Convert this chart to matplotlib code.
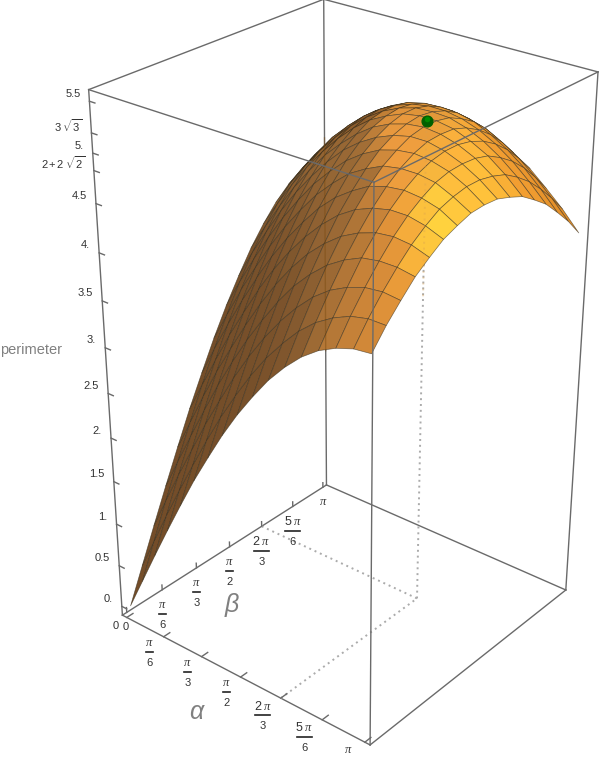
import numpy as np
import matplotlib
matplotlib.use("Agg")
import matplotlib.pyplot as plt
from matplotlib.lines import Line2D
from mpl_toolkits.mplot3d import proj3d

plt.rcParams["font.family"] = ["Liberation Sans", "DejaVu Sans"]
plt.rcParams["mathtext.fontset"] = "custom"
plt.rcParams["mathtext.rm"] = "Liberation Sans"
plt.rcParams["mathtext.it"] = "Liberation Serif:italic"

# perimeter values on the mesh, alpha rows and beta columns, every pi/16
perimeter = [
    [0.00, 0.39, 0.78, 1.16, 1.53, 1.89, 2.22, 2.54, 2.83, 3.09, 3.33, 3.53, 3.70, 3.83, 3.92, 3.98, 4.00],
    [0.39, 0.78, 1.17, 1.54, 1.90, 2.25, 2.58, 2.88, 3.16, 3.41, 3.62, 3.81, 3.96, 4.07, 4.15, 4.19, 4.19],
    [0.78, 1.17, 1.55, 1.91, 2.27, 2.60, 2.92, 3.21, 3.47, 3.70, 3.90, 4.07, 4.20, 4.29, 4.35, 4.37, 4.35],
    [1.16, 1.54, 1.91, 2.27, 2.62, 2.94, 3.24, 3.51, 3.76, 3.98, 4.16, 4.31, 4.42, 4.50, 4.53, 4.53, 4.50],
    [1.53, 1.90, 2.27, 2.62, 2.94, 3.25, 3.54, 3.80, 4.03, 4.23, 4.39, 4.52, 4.61, 4.67, 4.69, 4.67, 4.61],
    [1.89, 2.25, 2.60, 2.94, 3.25, 3.55, 3.82, 4.06, 4.27, 4.45, 4.60, 4.71, 4.78, 4.82, 4.82, 4.78, 4.71],
    [2.22, 2.58, 2.92, 3.24, 3.54, 3.82, 4.07, 4.29, 4.49, 4.65, 4.77, 4.87, 4.92, 4.94, 4.92, 4.87, 4.77],
    [2.54, 2.88, 3.21, 3.51, 3.80, 4.06, 4.29, 4.50, 4.67, 4.82, 4.92, 5.00, 5.03, 5.03, 5.00, 4.92, 4.82],
    [2.83, 3.16, 3.47, 3.76, 4.03, 4.27, 4.49, 4.67, 4.83, 4.95, 5.04, 5.09, 5.11, 5.09, 5.04, 4.95, 4.83],
    [3.09, 3.41, 3.70, 3.98, 4.23, 4.45, 4.65, 4.82, 4.95, 5.05, 5.12, 5.16, 5.16, 5.12, 5.05, 4.95, 4.82],
    [3.33, 3.62, 3.90, 4.16, 4.39, 4.60, 4.77, 4.92, 5.04, 5.12, 5.17, 5.19, 5.17, 5.12, 5.04, 4.92, 4.77],
    [3.53, 3.81, 4.07, 4.31, 4.52, 4.71, 4.87, 5.00, 5.09, 5.16, 5.19, 5.19, 5.16, 5.09, 5.00, 4.87, 4.71],
    [3.70, 3.96, 4.20, 4.42, 4.61, 4.78, 4.92, 5.03, 5.11, 5.16, 5.17, 5.16, 5.11, 5.03, 4.92, 4.78, 4.61],
    [3.83, 4.07, 4.29, 4.50, 4.67, 4.82, 4.94, 5.03, 5.09, 5.12, 5.12, 5.09, 5.03, 4.94, 4.82, 4.67, 4.50],
    [3.92, 4.15, 4.35, 4.53, 4.69, 4.82, 4.92, 5.00, 5.04, 5.05, 5.04, 5.00, 4.92, 4.82, 4.69, 4.53, 4.35],
    [3.98, 4.19, 4.37, 4.53, 4.67, 4.78, 4.87, 4.92, 4.95, 4.95, 4.92, 4.87, 4.78, 4.67, 4.53, 4.37, 4.19],
    [4.00, 4.19, 4.35, 4.50, 4.61, 4.71, 4.77, 4.82, 4.83, 4.82, 4.77, 4.71, 4.61, 4.50, 4.35, 4.19, 4.00],
]
mesh_angles = np.arange(17) * np.pi / 16

angle_ticks = [0, np.pi / 6, np.pi / 3, np.pi / 2, 2 * np.pi / 3, 5 * np.pi / 6, np.pi]
angle_labels = [("0", None), ("\\pi", "6"), ("\\pi", "3"), ("\\pi", "2"), ("2\\ \\pi", "3"), ("5\\ \\pi", "6"), ("\\pi", None)]
z_ticks = [0, 0.5, 1, 1.5, 2, 2.5, 3, 3.5, 4, 4.5, 2 + 2 * np.sqrt(2), 5, 3 * np.sqrt(3), 5.5]
z_labels = ["0.", "0.5", "1.", "1.5", "2.", "2.5", "3.", "3.5", "4.", "4.5", r"$2+2\ \sqrt{2}$", "5.", r"$3\ \sqrt{3}$", "5.5"]

peak_alpha, peak_beta, peak_z = 2 * np.pi / 3, 2 * np.pi / 3, 3 * np.sqrt(3)

A0, A1 = -0.063, np.pi + 0.063
Z0, Z1 = -0.11, 5.61
GREY = "#6a6a6a"
DOTS = "#ababab"
TEXT = "#333333"

# surface colours seen for some normals (camera right, camera up, towards camera)
shade_normals = np.array([
    [-0.94, 0.25, 0.24], [-0.63, 0.53, 0.36], [-0.45, 0.36, 0.82], [-0.25, 0.42, 0.87], [-0.04, 0.47, 0.88],
    [0.00, 0.88, 0.48], [-0.30, 0.75, 0.58], [0.45, 0.54, 0.71], [0.72, 0.55, 0.43], [0.81, 0.55, 0.21],
    [-0.55, 0.83, 0.00], [0.20, 0.75, 0.63],
])
shade_colors = np.array([
    [0.45, 0.30, 0.16], [0.60, 0.41, 0.21], [0.76, 0.50, 0.22], [1.00, 0.62, 0.22], [1.00, 0.88, 0.25],
    [0.86, 0.57, 0.22], [0.95, 0.62, 0.25], [1.00, 0.78, 0.23], [0.97, 0.63, 0.20], [0.85, 0.53, 0.15],
    [0.52, 0.34, 0.16], [1.00, 0.70, 0.24],
])


def face_colors(Z, elev, azim):
    az, el = np.radians(azim), np.radians(elev)
    right = np.array([-np.sin(az), np.cos(az), 0])
    up = np.array([-np.sin(el) * np.cos(az), -np.sin(el) * np.sin(az), np.cos(el)])
    cam = np.array([np.cos(el) * np.cos(az), np.cos(el) * np.sin(az), np.sin(el)])
    h = np.pi / 16
    dzi = (Z[1:, :-1] + Z[1:, 1:] - Z[:-1, :-1] - Z[:-1, 1:]) / (2 * h)
    dzj = (Z[:-1, 1:] + Z[1:, 1:] - Z[:-1, :-1] - Z[1:, :-1]) / (2 * h)
    n = np.stack([-dzi, -dzj, np.ones_like(dzi)], axis=-1)
    n = n / np.linalg.norm(n, axis=-1, keepdims=True)
    view = np.stack([n @ right, n @ up, n @ cam], axis=-1)
    d2 = ((view[..., None, :] - shade_normals) ** 2).sum(axis=-1)
    w = np.exp(-d2 / (2 * 0.16 ** 2)) + 1e-9
    rgb = (w[..., None] * shade_colors).sum(axis=-2) / w.sum(axis=-1, keepdims=True)
    out = np.dstack([rgb, np.ones(rgb.shape[:2])])
    out[view[..., 2] < 0] = (0.45, 0.30, 0.16, 1)
    return out


def main():
    fig = plt.figure(figsize=(6, 7.62), dpi=100)
    ax = fig.add_axes([-32.02 / 600, 24.24 / 762, 736.4 / 600, 736.4 / 762], projection="3d", computed_zorder=False)
    ax.set_xlim(A0, A1)
    ax.set_ylim(A0, A1)
    ax.set_zlim(Z0, Z1)
    elev, azim = 28.413, -50.5625
    ax.view_init(elev=elev, azim=azim, roll=0.012)
    ax.set_proj_type("persp", focal_length=0.5101)
    ax.set_box_aspect((1, 1, 1.753))
    ax.set_axis_off()
    ax.patch.set_alpha(0)

    def edge(p, q, z=1):
        ax.plot(*zip(p, q), color=GREY, lw=1.0, zorder=z, clip_on=False)

    # back of the box
    edge((A0, A0, Z0), (A1, A0, Z0))
    edge((A0, A0, Z0), (A0, A1, Z0))
    edge((A1, A0, Z0), (A1, A1, Z0))
    edge((A0, A1, Z0), (A1, A1, Z0))
    edge((A0, A0, Z0), (A0, A0, Z1))
    edge((A0, A1, Z0), (A0, A1, Z1))
    edge((A1, A1, Z0), (A1, A1, Z1))
    edge((A0, A0, Z1), (A0, A1, Z1))
    edge((A0, A1, Z1), (A1, A1, Z1))

    # dotted guides to the peak
    dot = dict(color=DOTS, lw=1.4, ls=(0, (1, 2)), clip_on=False)
    ax.plot([peak_alpha, peak_alpha], [A0, peak_beta], [Z0, Z0], zorder=1, **dot)
    ax.plot([A0, peak_alpha], [peak_beta, peak_beta], [Z0, Z0], zorder=1, **dot)
    ax.plot([peak_alpha, peak_alpha], [peak_beta, peak_beta], [Z0, peak_z], zorder=1, **dot)

    # ticks along the box edges
    for t in angle_ticks:
        edge((t, A0, Z0), (t, A0 + 0.09, Z0))
        edge((A0, t, Z0), (A0, t, Z0 + 0.06))
    for t in z_ticks:
        edge((A0, A0, t), (A0 + 0.07, A0, t))

    X, Y = np.meshgrid(mesh_angles, mesh_angles, indexing="ij")
    Z = np.array(perimeter)
    ax.plot_surface(X, Y, Z, rstride=1, cstride=1, facecolors=face_colors(Z, elev, azim), shade=False,
                    edgecolor=(0.2, 0.17, 0.1, 0.62), linewidth=0.5, antialiased=True, zorder=2)

    # the surface is slightly see through: back edge and guide show faintly
    ax.plot([A0, A0], [A1, A1], [1.62, 4.12], color="#7a4a10", lw=1.0, alpha=0.45, zorder=3)
    ax.plot([peak_alpha, peak_alpha], [peak_beta, peak_beta], [3.4, peak_z], color="#d8a050", lw=1.4,
            ls=(0, (1, 2)), alpha=0.35, zorder=3)

    # front of the box
    edge((A1, A0, Z0), (A1, A0, Z1), z=4)
    edge((A0, A0, Z1), (A1, A0, Z1), z=4)
    edge((A1, A0, Z1), (A1, A1, Z1), z=4)

    ax.scatter([peak_alpha], [peak_beta], [peak_z], s=60, color="#006000", depthshade=False, zorder=5)
    ax.scatter([peak_alpha], [peak_beta], [peak_z + 0.015], s=16, color="#008a00", depthshade=False, linewidths=0, zorder=6)

    M = ax.get_proj()

    def to_px(a, b, c):
        xp, yp, _ = proj3d.proj_transform(a, b, c, M)
        x, y = ax.transData.transform((xp, yp))
        return x, y

    def put(x, y, s, **kw):
        kw.setdefault("color", TEXT)
        kw.setdefault("fontsize", 8)
        kw.setdefault("ha", "center")
        kw.setdefault("va", "center")
        fig.text(x / 600, y / 762, s, **kw)

    def angle_label(x, y, num, den):
        if den is None:
            if num == "0":
                put(x, y, "0")
            else:
                put(x, y, f"${num}$", fontsize=9)
            return
        put(x, y + 9, f"${num}$", fontsize=9)
        half = 7.5 if "\\ " in num else 3.5
        fig.add_artist(Line2D([(x - half) / 600, (x + half) / 600], [y / 762, y / 762], color="#222222", lw=1.2,
                              transform=fig.transFigure))
        put(x, y - 11, den)

    # tick labels sit a fixed pixel offset from their tick
    for i, t in enumerate(angle_ticks):
        num, den = angle_labels[i]
        x, y = to_px(t, A0, Z0)
        if den is None:
            if i == 0:
                angle_label(x - 1, y - 10, num, den)
            else:
                angle_label(x - 17, y - 8, num, den)
        elif "\\ " in num:
            angle_label(x - 18, y - 17, num, den)
        else:
            angle_label(x - 14, y - 15, num, den)
        x, y = to_px(A0, t, Z0)
        if den is None:
            if i == 0:
                angle_label(x - 11, y - 14, num, den)
            else:
                angle_label(x, y - 15, num, den)
        else:
            angle_label(x, y - 24.5, num, den)

    for t, s in zip(z_ticks, z_labels):
        x, y = to_px(A0, A0, t)
        put(x - 9, y + 7.5, s, ha="right")

    put(0, 412, "perimeter", fontsize=10.5, color="#808080", ha="left")
    put(196, 50, "\u03b1", fontsize=18, color="#808080", style="italic")
    put(232, 157, "\u03b2", fontsize=18, color="#808080", style="italic")

    fig.savefig("out.png", dpi=100)


if __name__ == "__main__":
    main()
